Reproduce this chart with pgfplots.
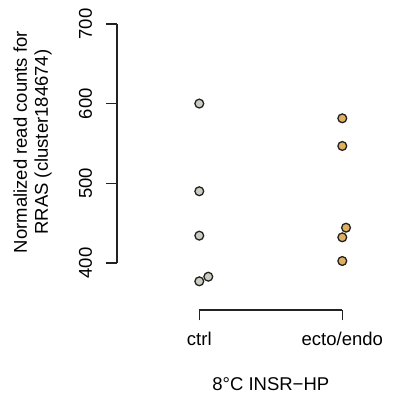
\documentclass[border=0pt]{standalone}
\usepackage{pgfplots}
\pgfplotsset{compat=1.18}
\usepackage{fontspec}
\setmainfont{Liberation Sans}
\definecolor{ctrlfill}{RGB}{204,204,194}
\definecolor{ectofill}{RGB}{222,176,96}
\definecolor{axcol}{RGB}{34,34,34}
\begin{document}
\begin{tikzpicture}[x=1pt,y=1pt]
\useasboundingbox (0,0) rectangle (395,398);
\begin{axis}[
  scale only axis,
  width=268.2pt, height=294.1pt,
  at={(117pt,88pt)}, anchor=south west,
  xmin=0.4245, xmax=2.3,
  ymin=341.03, ymax=710,
  axis lines*=left,
  axis line style={draw=none},
  tick align=outside,
  major tick length=10.5pt,
  tick style={draw=axcol, line width=1.3pt},
  xtick={1,2}, xticklabels={ctrl, ecto/endo},
  ytick={400,500,600,700},
  font=\fontsize{18.5}{22}\selectfont,
  /pgf/number format/assume math mode=true,
  yticklabel style={shift={(-14.5pt,0pt)}, rotate=90, anchor=base, font=\fontsize{18.5}{22}\selectfont},
  xticklabel style={shift={(0pt,-25.5pt)}, anchor=base, font=\fontsize{18.5}{22}\selectfont},
  ylabel={Normalized read counts for\\RRAS (cluster184674)},
  ylabel style={at={(axis description cs:-0.315,0.571)}, anchor=center, rotate=0, align=center, font=\fontsize{18.5}{21}\selectfont},
  xlabel={8°C INSR−HP},
  xlabel style={at={(axis cs:1.5,341.03)}, anchor=base, yshift=-80pt, font=\fontsize{18.5}{22}\selectfont},
  clip=false,
]
\draw[axcol, line width=1.3pt] (axis cs:0.4245,400) -- (axis cs:0.4245,700);
\draw[axcol, line width=1.3pt] (axis cs:1,341.03) -- (axis cs:2,341.03);
\addplot[only marks, mark=*, mark size=4.4pt, mark options={draw=axcol, fill=ctrlfill, line width=1.3pt}]
  coordinates {(1,600) (1,490) (1,434.3) (1.063,382.8) (1,377)};
\addplot[only marks, mark=*, mark size=4.4pt, mark options={draw=axcol, fill=ectofill, line width=1.3pt}]
  coordinates {(2,581.5) (2,546.8) (2.026,444.3) (2,432.2) (2,402.5)};
\end{axis}
\end{tikzpicture}
\end{document}
